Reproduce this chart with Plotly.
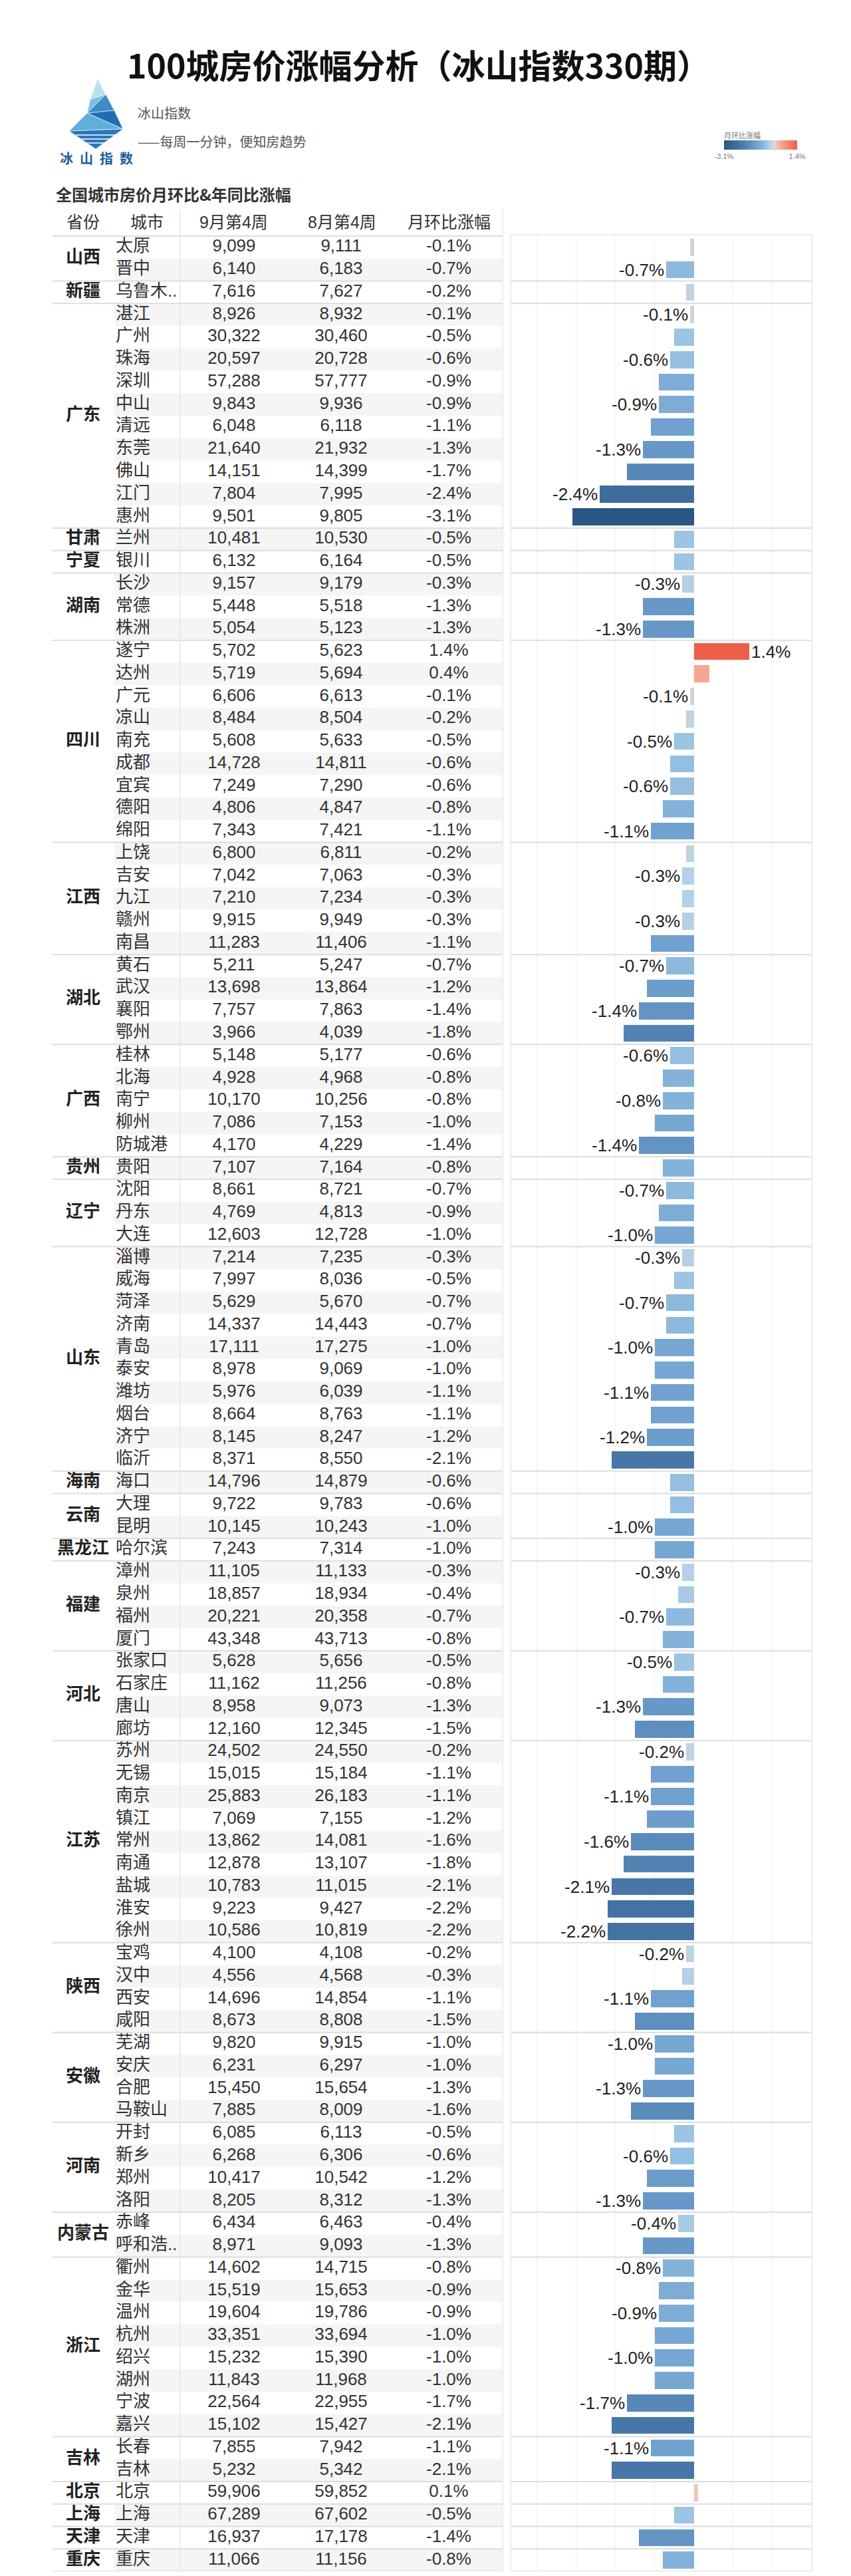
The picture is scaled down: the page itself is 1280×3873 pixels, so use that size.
import plotly.graph_objects as go

# ---- data ----
provinces = (["山西"] * 2 + ["新疆"] + ["广东"] * 10 + ["甘肃", "宁夏"] + ["湖南"] * 3 + ["四川"] * 9
             + ["江西"] * 5 + ["湖北"] * 4 + ["广西"] * 5 + ["贵州"] + ["辽宁"] * 3 + ["山东"] * 10
             + ["海南"] + ["云南"] * 2 + ["黑龙江"] + ["福建"] * 4 + ["河北"] * 4 + ["江苏"] * 9
             + ["陕西"] * 4 + ["安徽"] * 4 + ["河南"] * 4 + ["内蒙古"] * 2 + ["浙江"] * 8 + ["吉林"] * 2
             + ["北京", "上海", "天津", "重庆"])

cities = ["太原", "晋中", "乌鲁木..", "湛江", "广州", "珠海", "深圳", "中山", "清远", "东莞", "佛山", "江门", "惠州",
          "兰州", "银川", "长沙", "常德", "株洲", "遂宁", "达州", "广元", "凉山", "南充", "成都", "宜宾", "德阳", "绵阳",
          "上饶", "吉安", "九江", "赣州", "南昌", "黄石", "武汉", "襄阳", "鄂州", "桂林", "北海", "南宁", "柳州", "防城港",
          "贵阳", "沈阳", "丹东", "大连", "淄博", "威海", "菏泽", "济南", "青岛", "泰安", "潍坊", "烟台", "济宁", "临沂",
          "海口", "大理", "昆明", "哈尔滨", "漳州", "泉州", "福州", "厦门", "张家口", "石家庄", "唐山", "廊坊",
          "苏州", "无锡", "南京", "镇江", "常州", "南通", "盐城", "淮安", "徐州", "宝鸡", "汉中", "西安", "咸阳",
          "芜湖", "安庆", "合肥", "马鞍山", "开封", "新乡", "郑州", "洛阳", "赤峰", "呼和浩..",
          "衢州", "金华", "温州", "杭州", "绍兴", "湖州", "宁波", "嘉兴", "长春", "吉林", "北京", "上海", "天津", "重庆"]

price_sep = [9099, 6140, 7616, 8926, 30322, 20597, 57288, 9843, 6048, 21640, 14151, 7804, 9501,
             10481, 6132, 9157, 5448, 5054, 5702, 5719, 6606, 8484, 5608, 14728, 7249, 4806, 7343,
             6800, 7042, 7210, 9915, 11283, 5211, 13698, 7757, 3966, 5148, 4928, 10170, 7086, 4170,
             7107, 8661, 4769, 12603, 7214, 7997, 5629, 14337, 17111, 8978, 5976, 8664, 8145, 8371,
             14796, 9722, 10145, 7243, 11105, 18857, 20221, 43348, 5628, 11162, 8958, 12160,
             24502, 15015, 25883, 7069, 13862, 12878, 10783, 9223, 10586, 4100, 4556, 14696, 8673,
             9820, 6231, 15450, 7885, 6085, 6268, 10417, 8205, 6434, 8971,
             14602, 15519, 19604, 33351, 15232, 11843, 22564, 15102, 7855, 5232, 59906, 67289, 16937, 11066]

price_aug = [9111, 6183, 7627, 8932, 30460, 20728, 57777, 9936, 6118, 21932, 14399, 7995, 9805,
             10530, 6164, 9179, 5518, 5123, 5623, 5694, 6613, 8504, 5633, 14811, 7290, 4847, 7421,
             6811, 7063, 7234, 9949, 11406, 5247, 13864, 7863, 4039, 5177, 4968, 10256, 7153, 4229,
             7164, 8721, 4813, 12728, 7235, 8036, 5670, 14443, 17275, 9069, 6039, 8763, 8247, 8550,
             14879, 9783, 10243, 7314, 11133, 18934, 20358, 43713, 5656, 11256, 9073, 12345,
             24550, 15184, 26183, 7155, 14081, 13107, 11015, 9427, 10819, 4108, 4568, 14854, 8808,
             9915, 6297, 15654, 8009, 6113, 6306, 10542, 8312, 6463, 9093,
             14715, 15653, 19786, 33694, 15390, 11968, 22955, 15427, 7942, 5342, 59852, 67602, 17178, 11156]

mom = [-0.1, -0.7, -0.2, -0.1, -0.5, -0.6, -0.9, -0.9, -1.1, -1.3, -1.7, -2.4, -3.1,
       -0.5, -0.5, -0.3, -1.3, -1.3, 1.4, 0.4, -0.1, -0.2, -0.5, -0.6, -0.6, -0.8, -1.1,
       -0.2, -0.3, -0.3, -0.3, -1.1, -0.7, -1.2, -1.4, -1.8, -0.6, -0.8, -0.8, -1.0, -1.4,
       -0.8, -0.7, -0.9, -1.0, -0.3, -0.5, -0.7, -0.7, -1.0, -1.0, -1.1, -1.1, -1.2, -2.1,
       -0.6, -0.6, -1.0, -1.0, -0.3, -0.4, -0.7, -0.8, -0.5, -0.8, -1.3, -1.5,
       -0.2, -1.1, -1.1, -1.2, -1.6, -1.8, -2.1, -2.2, -2.2, -0.2, -0.3, -1.1, -1.5,
       -1.0, -1.0, -1.3, -1.6, -0.5, -0.6, -1.2, -1.3, -0.4, -1.3,
       -0.8, -0.9, -0.9, -1.0, -1.0, -1.0, -1.7, -2.1, -1.1, -2.1, 0.1, -0.5, -1.4, -0.8]

# rows whose bar carries a value label in the reference
labelled = {"晋中", "湛江", "珠海", "中山", "东莞", "江门", "长沙", "株洲", "遂宁", "广元", "南充", "宜宾", "绵阳",
            "吉安", "赣州", "黄石", "襄阳", "桂林", "南宁", "防城港", "沈阳", "大连", "淄博", "菏泽", "青岛", "潍坊",
            "济宁", "昆明", "漳州", "福州", "张家口", "唐山", "苏州", "南京", "常州", "盐城", "徐州", "宝鸡", "西安",
            "芜湖", "合肥", "新乡", "洛阳", "赤峰", "衢州", "温州", "绍兴", "宁波", "长春"}

headers = ["省份", "城市", "9月第4周", "8月第4周", "月环比涨幅"]

# ---- layout constants ----
W, H = 1280, 3873
ROW_TOP, ROW_H = 347, 33.76
n = len(cities)
rows = list(range(n))
ROW_BOTTOM = ROW_TOP + n * ROW_H
TBL_L, PROV_R, CITY_R, TBL_R = 71, 164, 263, 748
PANE_L, PANE_R = 760, 1213

FONT = "Liberation Sans, Noto Sans CJK SC, sans-serif"
CJK = "Noto Sans CJK SC, sans-serif"
TXT = "#333333"
LINE = "#dddddd"


def fx(x):
    return x / W


def fy(y):
    return 1 - y / H


# diverging blue-grey-red, anchored so 0 sits at the grey centre
cmin, cmax = -3.1, 1.4
stops = [(-3.1, "#2a5783"), (-2.2, "#4473a3"), (-1.5, "#5f8fbf"), (-1.0, "#76a6d2"), (-0.5, "#9cc5e3"),
         (-0.3, "#b3d0e6"), (-0.1, "#cdd5dc"), (0.0, "#dedede"), (0.1, "#ecc8c1"), (0.4, "#f6a692"),
         (1.4, "#ec5f4a")]
colorscale = [[(v - cmin) / (cmax - cmin), c] for v, c in stops]

fig = go.Figure()

# table text columns
common = dict(mode="text", xaxis="x", yaxis="y", hoverinfo="skip", showlegend=False)
fig.add_trace(go.Scatter(x=[166] * n, y=rows, text=cities, textposition="middle right",
                         textfont=dict(size=26, color=TXT, family=FONT), **common))
fig.add_trace(go.Scatter(x=[344] * n, y=rows, text=[f"{v:,}" for v in price_sep], textposition="middle center",
                         textfont=dict(size=26, color=TXT, family=FONT), **common))
fig.add_trace(go.Scatter(x=[505] * n, y=rows, text=[f"{v:,}" for v in price_aug], textposition="middle center",
                         textfont=dict(size=26, color=TXT, family=FONT), **common))
fig.add_trace(go.Scatter(x=[667] * n, y=rows, text=[f"{v:.1f}%" for v in mom], textposition="middle center",
                         textfont=dict(size=26, color=TXT, family=FONT), **common))

# province groups
groups = []
start = 0
for i in range(1, n + 1):
    if i == n or provinces[i] != provinces[start]:
        groups.append((provinces[start], start, i - 1))
        start = i
fig.add_trace(go.Scatter(x=[117] * len(groups), y=[(a + b) / 2 for _, a, b in groups],
                         text=[f"<b>{p}</b>" for p, _, _ in groups], textposition="middle center",
                         textfont=dict(size=26, color="#222222", family=CJK), **common))

# bars
fig.add_trace(go.Bar(
    x=mom, y=rows, orientation="h", width=0.76, xaxis="x2", yaxis="y",
    marker=dict(color=mom, colorscale=colorscale, cmin=cmin, cmax=cmax, line=dict(width=0), showscale=True,
                colorbar=dict(orientation="h", x=fx(1081), xanchor="left", y=fy(203), yanchor="top",
                              len=110, lenmode="pixels", thickness=14, thicknessmode="pixels",
                              outlinewidth=0, xpad=0, ypad=0, tickvals=[-3.1, 1.4], ticktext=["-3.1%", "1.4%"],
                              ticks="", tickfont=dict(size=11, color="#777777", family=FONT))),
    text=[f"{v:.1f}%" if c in labelled else "" for c, v in zip(cities, mom)],
    textposition="outside", constraintext="none", cliponaxis=False,
    textfont=dict(size=26, color="#222222", family=FONT),
    hoverinfo="skip", showlegend=False))

shapes = []
# row banding (every second row)
for i in rows:
    if i % 2 == 1:
        shapes.append(dict(type="rect", xref="x", yref="y", x0=PROV_R, x1=TBL_R, y0=i - 0.5, y1=i + 0.5,
                           fillcolor="#f5f5f5", line=dict(width=0), layer="below"))
# group separators
for _, a, b in groups:
    for x0, x1 in ((TBL_L, TBL_R), (PANE_L, PANE_R)):
        shapes.append(dict(type="line", xref="x", yref="y", x0=x0, x1=x1, y0=b + 0.5, y1=b + 0.5,
                           line=dict(color=LINE, width=2)))
# header underline / pane top
shapes.append(dict(type="line", xref="paper", yref="paper", x0=fx(TBL_L), x1=fx(TBL_R),
                   y0=fy(ROW_TOP), y1=fy(ROW_TOP), line=dict(color=LINE, width=2)))
shapes.append(dict(type="line", xref="paper", yref="paper", x0=fx(PANE_L), x1=fx(PANE_R),
                   y0=fy(ROW_TOP - 2), y1=fy(ROW_TOP - 2), line=dict(color="#e8e8e8", width=1.5)))
# vertical rules
for x, y0 in ((CITY_R, 307), (TBL_R, 307), (PANE_L, ROW_TOP - 2), (PANE_R, ROW_TOP - 2)):
    shapes.append(dict(type="line", xref="paper", yref="paper", x0=fx(x), x1=fx(x),
                       y0=fy(y0), y1=fy(ROW_BOTTOM), line=dict(color="#e6e6e6", width=1.5)))
# zero tick on the colour legend
shapes.append(dict(type="line", xref="paper", yref="paper", x0=fx(1157), x1=fx(1157), y0=fy(214), y1=fy(218),
                   line=dict(color="#555555", width=1)))

# logo: faceted iceberg
facets = [
    ([(139, 110), (151, 134), (128, 141)], "#b8e0ef"),
    ([(128, 141), (151, 134), (123, 162)], "#7cc0df"),
    ([(151, 134), (164, 158), (123, 162)], "#3d8cc6"),
    ([(123, 162), (164, 158), (177, 186)], "#1f6db3"),
    ([(123, 162), (177, 186), (96, 189)], "#62aedb"),
    ([(96, 189), (177, 186), (136, 216)], "#2a77ba"),
]
for pts, col in facets:
    path = "M " + " L ".join(f"{fx(x):.5f},{fy(y):.5f}" for x, y in pts) + " Z"
    shapes.append(dict(type="path", xref="paper", yref="paper", path=path, fillcolor=col,
                       line=dict(color="white", width=0.6)))
for y, xa, xb in ((195, 106, 168), (201, 114, 160), (207, 123, 150)):
    shapes.append(dict(type="line", xref="paper", yref="paper", x0=fx(xa), x1=fx(xb), y0=fy(y), y1=fy(y),
                       line=dict(color="white", width=1.5)))

annotations = [
    dict(text="<b>100城房价涨幅分析（冰山指数330期）</b>", x=fx(621), y=fy(88),
         font=dict(size=50, color="#111111", family=CJK), xanchor="center"),
    dict(text="冰山指数", x=fx(197), y=fy(162), font=dict(size=20, color="#555555", family=CJK), xanchor="left"),
    dict(text="——每周一分钟，便知房趋势", x=fx(197), y=fy(204), font=dict(size=20, color="#555555", family=CJK),
         xanchor="left"),
    dict(text="<b>冰\u2002山\u2002指\u2002数</b>", x=fx(137), y=fy(229),
         font=dict(size=20, color="#1b5c9f", family=CJK), xanchor="center"),
    dict(text="<b>全国城市房价月环比&年同比涨幅</b>", x=fx(74), y=fy(284),
         font=dict(size=24, color="#333333", family=CJK), xanchor="left"),
    dict(text="月环比涨幅", x=fx(1079), y=fy(195), font=dict(size=11, color="#777777", family=CJK),
         xanchor="left"),
]
for h, xc in zip(headers, (117, 213, 343, 506, 667)):
    annotations.append(dict(text=h, x=fx(xc), y=fy(326), font=dict(size=25, color="#333333", family=FONT),
                            xanchor="center"))
for a in annotations:
    a.update(xref="paper", yref="paper", yanchor="middle", showarrow=False)

fig.update_layout(
    width=W, height=H, margin=dict(l=0, r=0, t=0, b=0),
    paper_bgcolor="white", plot_bgcolor="rgba(0,0,0,0)",
    xaxis=dict(domain=[0, 1], range=[0, W], visible=False, fixedrange=True),
    xaxis2=dict(domain=[fx(PANE_L), fx(PANE_R)], range=[-4.67, 3.0], anchor="y", showgrid=True,
                gridcolor="#efefef", gridwidth=1, dtick=1, tick0=0, showticklabels=False, zeroline=False,
                showline=False, ticks=""),
    yaxis=dict(domain=[fy(ROW_BOTTOM), fy(ROW_TOP)], range=[n - 0.5, -0.5], visible=False),
    shapes=shapes, annotations=annotations, bargap=0,
)

fig.write_html("out.html")
